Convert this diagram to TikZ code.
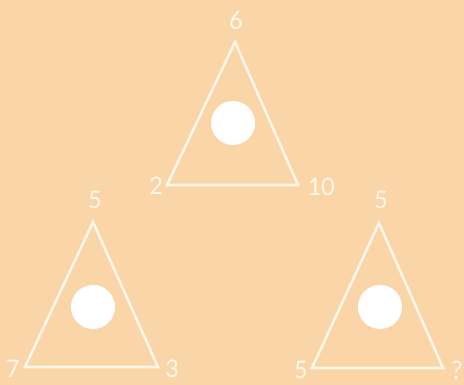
\documentclass[tikz,border=0pt]{standalone}
\usepackage{fontspec}
\setmainfont{Carlito}
\usetikzlibrary{positioning}
\definecolor{peach}{HTML}{F9D5A7}
\definecolor{chalk}{HTML}{FFF6EA}
\tikzset{
  tri/.style  = {draw=chalk, line width=2.6pt, line join=miter},
  dot/.style  = {circle, fill=white, minimum size=44pt, inner sep=0pt},
  num/.style  = {text=chalk, font=\fontsize{27}{27}\selectfont, inner sep=0pt},
}
\begin{document}
\begin{tikzpicture}[x=1pt, y=-1pt]
  \fill[peach] (0,0) rectangle (464,385);
  \useasboundingbox (0,0) rectangle (464,385);

  % ---- top triangle --------------------------------------------------------
  \coordinate (ta) at (235,42);
  \coordinate (tl) at (167,185);
  \coordinate (tr) at (298,185);
  \draw[tri] (ta) -- (tl) -- (tr) -- cycle;
  \node[dot] (tc) at (233,123) {};
  \node[num] (tn1) at (236,20) {6};
  \node[num] (tn2) at (156,186) {2};
  \node[num] (tn3) at (321,187) {10};

  % ---- left triangle -------------------------------------------------------
  \coordinate (la) at (93,222);
  \coordinate (ll) at (25,367);
  \coordinate (lr) at (158,367);
  \draw[tri] (la) -- (ll) -- (lr) -- cycle;
  \node[dot] (lc) at (93,307) {};
  \node[num] (ln1) at (95,200) {5};
  \node[num] (ln2) at (13,369) {7};
  \node[num] (ln3) at (172,369) {3};

  % ---- right triangle ------------------------------------------------------
  \coordinate (ra) at (379,223);
  \coordinate (rl) at (312,368);
  \coordinate (rr) at (443,368);
  \draw[tri] (ra) -- (rl) -- (rr) -- cycle;
  \node[dot] (rc) at (380,307) {};
  \node[num] (rn1) at (381,200) {5};
  \node[num] (rn2) at (301,370) {5};
  \node[num] (rn3) at (457,370) {?};
\end{tikzpicture}
\end{document}
